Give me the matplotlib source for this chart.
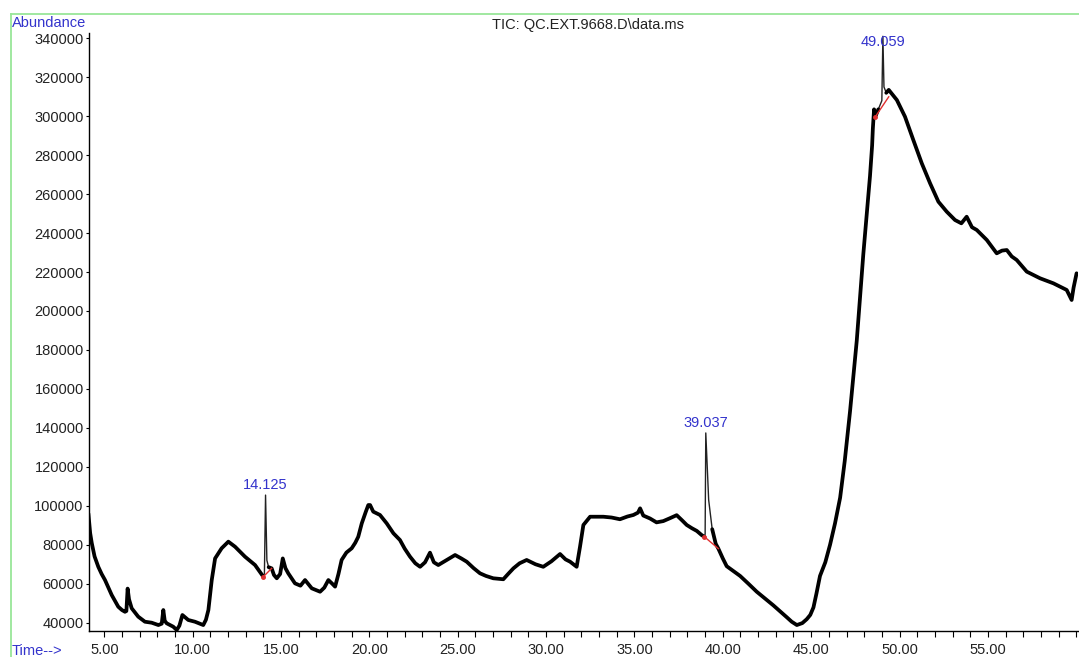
import numpy as np
import matplotlib
matplotlib.use("Agg")
import matplotlib.pyplot as plt
from matplotlib.lines import Line2D

# ---------------- data ----------------
time_min = [
    4.10, 4.20, 4.29, 4.45, 4.66, 4.85, 5.04, 5.42, 5.79, 6.00, 6.17, 6.25, 6.32, 6.40,
    6.55, 6.92, 7.30, 7.68, 8.06, 8.25, 8.34, 8.42, 8.53, 8.90, 9.10, 9.25, 9.42, 9.75,
    10.13, 10.40, 10.60, 10.75, 10.89, 11.08, 11.27, 11.64, 12.02, 12.40, 12.96, 13.53,
    14.00, 14.06, 14.125, 14.20, 14.30, 14.47, 14.60, 14.76, 14.95, 15.10, 15.25, 15.41,
    15.79, 16.10, 16.36, 16.74, 17.21, 17.45, 17.68, 17.90, 18.06, 18.25, 18.43, 18.70,
    19.00, 19.20, 19.37, 19.57, 19.80, 19.94, 20.04, 20.22, 20.60, 20.98, 21.36, 21.73,
    22.00, 22.30, 22.60, 22.87, 23.15, 23.43, 23.65, 23.90, 24.38, 24.85, 25.20, 25.51,
    25.90, 26.26, 26.60, 27.01, 27.58, 27.85, 28.15, 28.50, 28.90, 29.40, 29.84, 30.30,
    30.79, 31.10, 31.36, 31.73, 31.92, 32.11, 32.49, 33.24, 33.70, 34.18, 34.60, 34.94,
    35.20, 35.32, 35.50, 35.88, 36.25, 36.63, 37.00, 37.39, 37.70, 37.96, 38.25, 38.53,
    38.80, 38.96, 39.00, 39.037, 39.20, 39.40, 39.60, 39.75, 40.00, 40.22, 40.60, 40.98,
    41.45, 41.92, 42.40, 42.86, 43.25, 43.62, 43.90, 44.19, 44.50, 44.75, 44.95, 45.13,
    45.30, 45.50, 45.80, 46.07, 46.35, 46.64, 46.90, 47.20, 47.58, 47.95, 48.33, 48.45,
    48.49, 48.56, 48.63, 48.80, 49.00, 49.059, 49.12, 49.25, 49.39, 49.85, 50.31, 50.78,
    51.26, 51.73, 52.20, 52.67, 53.14, 53.50, 53.80, 54.10, 54.37, 54.94, 55.50, 55.80,
    56.07, 56.35, 56.63, 57.20, 57.95, 58.71, 59.20, 59.46, 59.74, 59.85, 60.02,
]
abundance = [
    96000, 86000, 80900, 74000, 68700, 65000, 61900, 54200, 48200, 46500, 45600, 46000, 57500, 52000,
    47400, 43100, 40500, 40000, 38800, 39500, 46500, 41000, 39700, 37950, 36250, 38500, 43950, 41400,
    40500, 39500, 38800, 41500, 46500, 61900, 73000, 78200, 81600, 79000, 73900, 69600,
    63600, 65000, 105500, 72000, 68500, 67900, 64500, 62800, 65000, 73000, 68000, 65350,
    60200, 59000, 61900, 57650, 55900, 58000, 61900, 60000, 58500, 65000, 72200, 76000,
    78200, 81000, 84100, 91000, 97000, 100400, 100400, 97000, 95300, 91000, 85900, 82450,
    78000, 73900, 70500, 68700, 71000, 75950, 71000, 69600, 72200, 74750, 73000, 71300,
    68000, 65350, 64000, 62800, 62300, 65000, 67900, 70500, 72200, 70000, 68700, 71500,
    75250, 72500, 71300, 68700, 79000, 90150, 94400, 94400, 94000, 93100, 94500, 95300,
    96500, 98700, 95000, 93500, 91500, 92150, 93600, 95200, 92500, 90150, 88500, 87100,
    85000, 84100, 85500, 137400, 103000, 88000, 80500, 78000, 73000, 69000, 66500, 64000,
    60000, 55900, 52300, 48900, 45800, 42800, 40500, 38800, 39800, 41800, 44000, 47850,
    55000, 64000, 71000, 80050, 91000, 104200, 123000, 148500, 184750, 229000, 269300, 285000,
    293500, 303500, 299700, 303500, 308000, 341000, 315000, 312000, 313500, 308300, 299750, 287800,
    275800, 265550, 256100, 251000, 246700, 245000, 248400, 243000, 241600, 236450, 229600, 231000,
    231300, 228000, 226200, 220200, 216800, 214200, 212000, 210800, 205650, 212000, 219350,
]

# integrated peaks: apex retention time, apex abundance, baseline start/end
peak_rt = [14.125, 39.037, 49.059]
peak_apex = [105500, 137400, 341000]
peak_labels = ["14.125", "39.037", "49.059"]
base_t0 = [14.00, 38.96, 48.63]
base_v0 = [63600, 84100, 299700]
base_t1 = [14.47, 39.75, 49.39]
base_v1 = [67900, 78000, 309950]

y_ticks = list(range(40000, 340001, 20000))
x_major = [5, 10, 15, 20, 25, 30, 35, 40, 45, 50, 55]
x_minor = list(range(5, 61))

title_text = "TIC: QC.EXT.9668.D\\data.ms"
y_title = "Abundance"
x_title = "Time-->"

# ---------------- figure ----------------
plt.rcParams['font.family'] = ['Liberation Sans', 'DejaVu Sans']
W, H = 1079, 657
fig = plt.figure(figsize=(W / 100, H / 100), dpi=100)
fig.patch.set_facecolor('white')

ax_left, ax_right, ax_top, ax_bottom = 88.5, 1078, 33, 631
ax = fig.add_axes([ax_left / W, (H - ax_bottom) / H,
                   (ax_right - ax_left) / W, (ax_bottom - ax_top) / H])
ax.set_xlim(4.106, 60.10)
ax.set_ylim(35740, 342700)

t = np.array(time_min, dtype=float)
v = np.array(abundance, dtype=float)

# thin line everywhere (shows the sharp peaks), thick trace elsewhere
ax.plot(t, v, color='#222222', lw=1.0, solid_joinstyle='round', zorder=3)
thick = v.copy()
mask_before = [0.08, 0.05, 0.07]
mask_after = [0.12, 0.25, 0.07]
for rt, mb, ma in zip(peak_rt, mask_before, mask_after):
    thick[(t > rt - mb) & (t < rt + ma)] = np.nan
ax.plot(t, thick, color='#000000', lw=2.7, solid_joinstyle='round',
        solid_capstyle='round', zorder=3)

# peak baselines (red)
for a, b, c, d in zip(base_t0, base_v0, base_t1, base_v1):
    ax.plot([a, c], [b, d], color='#e03030', lw=1.0, zorder=4)
    ax.plot([a], [b], marker='o', ms=2.5, color='#e03030', zorder=4)

# peak labels
for rt, ap, lab in zip(peak_rt, peak_apex, peak_labels):
    ly = min(ap + 5000, 338000)
    ax.text(rt, ly, lab, color='#3333cc', fontsize=10.5, ha='center', va='center',
            zorder=5)

# axes styling
for s in ['top', 'right']:
    ax.spines[s].set_visible(False)
for s in ['left', 'bottom']:
    ax.spines[s].set_color('black')
    ax.spines[s].set_linewidth(1.0)

ax.set_yticks(y_ticks)
ax.set_yticklabels([str(y) for y in y_ticks])
ax.set_xticks(x_major)
ax.set_xticklabels([f"{x:.2f}" for x in x_major])
ax.set_xticks(x_minor, minor=True)
ax.tick_params(axis='y', direction='out', length=2.5, width=0.8, pad=1.0,
               labelsize=10.5, labelcolor='#222222')
ax.tick_params(axis='x', which='both', direction='out', length=4, width=0.8, pad=5,
               labelsize=10.5, labelcolor='#222222')

# titles / frame text
fig.text(588 / W, 1 - 25 / H, title_text, ha='center', va='center',
         fontsize=10.5, color='#222222')
fig.text(12 / W, 1 - 23 / H, y_title, ha='left', va='center',
         fontsize=10.5, color='#3333cc')
fig.text(12 / W, 1 - 651 / H, x_title, ha='left', va='center',
         fontsize=10.5, color='#3333cc')

# light green frame
green = '#99e699'
fig.add_artist(Line2D([11 / W, 1.0], [1 - 14 / H, 1 - 14 / H], color=green, lw=1.3,
                      transform=fig.transFigure))
fig.add_artist(Line2D([11 / W, 11 / W], [1 - 14 / H, 0.0], color=green, lw=1.3,
                      transform=fig.transFigure))

fig.savefig('out.png', dpi=100)
